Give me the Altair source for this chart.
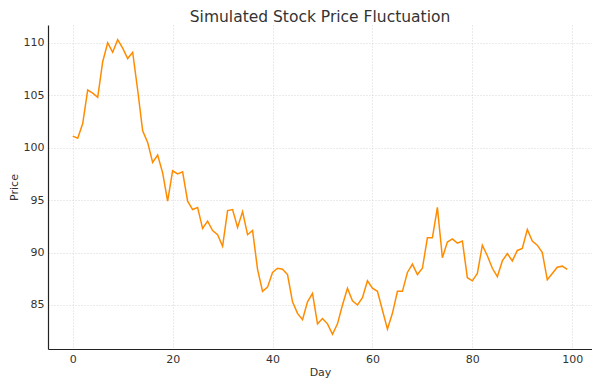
import altair as alt
import pandas as pd

days = list(range(100))
prices = [
    101.1, 100.9, 102.3, 105.5, 105.2, 104.8, 108.2, 110.0, 109.1, 110.3,
    109.5, 108.5, 109.1, 105.5, 101.6, 100.5, 98.6, 99.3, 97.6, 94.9,
    97.8, 97.5, 97.7, 94.9, 94.1, 94.3, 92.3, 93.0, 92.1, 91.7,
    90.6, 94.0, 94.1, 92.4, 93.9, 91.7, 92.1, 88.4, 86.3, 86.7,
    88.1, 88.5, 88.4, 87.9, 85.3, 84.2, 83.6, 85.3, 86.1, 83.2,
    83.7, 83.2, 82.2, 83.2, 85.0, 86.6, 85.4, 85.0, 85.7, 87.3,
    86.6, 86.3, 84.5, 82.7, 84.2, 86.3, 86.3, 88.1, 88.9, 87.9,
    88.5, 91.4, 91.4, 94.3, 89.5, 91.0, 91.3, 90.9, 91.1, 87.6,
    87.3, 88.0, 90.7, 89.7, 88.5, 87.7, 89.2, 89.9, 89.2, 90.2,
    90.4, 92.2, 91.1, 90.7, 90.0, 87.4, 88.0, 88.6, 88.7, 88.4,
]
x_ticks = [0, 20, 40, 60, 80, 100]
y_ticks = [85, 90, 95, 100, 105, 110]

df = pd.DataFrame({"Day": days, "Price": prices})

font = "DejaVu Sans"

chart = (
    alt.Chart(df)
    .mark_line(color="#FF8C00", strokeWidth=1.5)
    .encode(
        x=alt.X(
            "Day:Q",
            scale=alt.Scale(domain=[-4.95, 103.95], nice=False, zero=False),
            axis=alt.Axis(values=x_ticks, title="Day", format="d"),
        ),
        y=alt.Y(
            "Price:Q",
            scale=alt.Scale(domain=[80.8, 111.7], nice=False, zero=False),
            axis=alt.Axis(values=y_ticks, title="Price", format="d"),
        ),
    )
    .properties(
        width=544,
        height=324,
        title=alt.TitleParams(
            "Simulated Stock Price Fluctuation",
            fontSize=15.5,
            font=font,
            fontWeight="normal",
            color="#333333",
            anchor="middle",
            offset=0,
        ),
        autosize=alt.AutoSizeParams(type="none"),
        padding={"left": 40, "top": 17, "right": 0, "bottom": 30},
    )
    .configure_view(stroke=None)
    .configure_axis(
        labelFont=font,
        titleFont=font,
        labelFontSize=11,
        titleFontSize=11,
        labelColor="#333333",
        titleColor="#333333",
        titleFontWeight="normal",
        domainColor="#222222",
        domainWidth=1.2,
        tickSize=0,
        labelPadding=4,
        grid=True,
        gridColor="#cccccc",
        gridDash=[1, 2],
        gridWidth=0.8,
    )
    .configure_axisX(titlePadding=2)
    .configure_axisY(titlePadding=4)
)

chart.save("out.html", embed_options={"renderer": "svg", "actions": False})
